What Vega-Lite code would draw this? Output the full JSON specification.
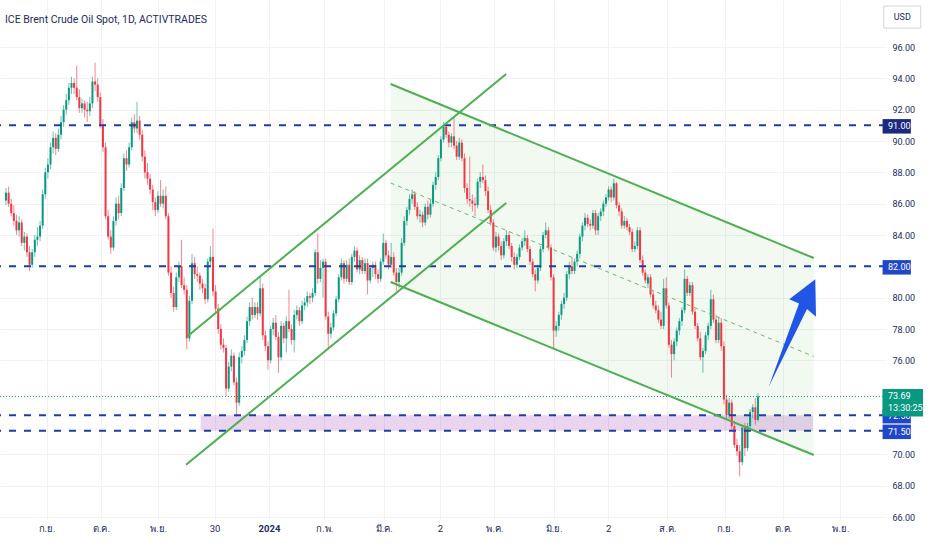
{
  "$schema": "https://vega.github.io/schema/vega-lite/v6.json",
  "width": 886,
  "height": 520,
  "autosize": {"type": "none"},
  "padding": {"left": 0, "top": 0, "right": 46, "bottom": 30},
  "background": "#ffffff",
  "title": {
    "text": "ICE Brent Crude Oil Spot, 1D, ACTIVTRADES",
    "anchor": "start",
    "frame": "group",
    "offset": -25,
    "dx": 5,
    "fontSize": 10.5,
    "fontWeight": "normal",
    "font": "Roboto",
    "color": "#212a62"
  },
  "datasets": {
    "candles": [
      {"i":0,"o":86.2,"h":87.0,"l":85.9,"c":86.7},{"i":1,"o":86.7,"h":87.1,"l":85.8,"c":86.0},{"i":2,"o":86.0,"h":86.3,"l":85.2,"c":85.4},{"i":3,"o":85.4,"h":85.9,"l":84.6,"c":84.9},{"i":4,"o":84.9,"h":85.3,"l":84.0,"c":84.3},
      {"i":5,"o":84.3,"h":85.2,"l":83.9,"c":84.8},{"i":6,"o":84.8,"h":85.0,"l":83.3,"c":83.5},{"i":7,"o":83.5,"h":84.2,"l":83.0,"c":83.9},{"i":8,"o":83.9,"h":84.1,"l":82.6,"c":82.9},{"i":9,"o":82.9,"h":83.3,"l":81.7,"c":82.1},
      {"i":10,"o":82.1,"h":83.1,"l":81.9,"c":82.9},{"i":11,"o":82.9,"h":84.0,"l":82.6,"c":83.7},{"i":12,"o":83.7,"h":84.5,"l":83.3,"c":83.9},{"i":13,"o":83.9,"h":84.9,"l":83.6,"c":84.6},{"i":14,"o":84.6,"h":86.9,"l":84.4,"c":86.6},
      {"i":15,"o":86.6,"h":88.3,"l":86.3,"c":88.0},{"i":16,"o":88.0,"h":88.9,"l":87.6,"c":88.5},{"i":17,"o":88.5,"h":89.9,"l":88.2,"c":89.6},{"i":18,"o":89.6,"h":90.6,"l":89.2,"c":90.2},{"i":19,"o":90.2,"h":90.5,"l":89.1,"c":89.5},
      {"i":20,"o":89.5,"h":90.8,"l":89.3,"c":90.4},{"i":21,"o":90.4,"h":91.6,"l":90.1,"c":91.2},{"i":22,"o":91.2,"h":92.3,"l":90.9,"c":92.0},{"i":23,"o":92.0,"h":93.0,"l":91.7,"c":92.6},{"i":24,"o":92.6,"h":93.7,"l":92.3,"c":93.4},
      {"i":25,"o":93.4,"h":94.1,"l":93.0,"c":93.7},{"i":26,"o":93.7,"h":94.0,"l":93.0,"c":93.4},{"i":27,"o":93.4,"h":94.8,"l":92.6,"c":92.8},{"i":28,"o":92.8,"h":93.3,"l":91.8,"c":92.1},{"i":29,"o":92.1,"h":92.7,"l":91.8,"c":92.4},
      {"i":30,"o":92.4,"h":92.6,"l":91.5,"c":92.0},{"i":31,"o":92.0,"h":92.5,"l":91.2,"c":91.9},{"i":32,"o":91.9,"h":92.8,"l":91.6,"c":92.4},{"i":33,"o":92.4,"h":94.1,"l":92.1,"c":93.8},{"i":34,"o":93.8,"h":95.0,"l":93.2,"c":93.6},
      {"i":35,"o":93.6,"h":94.0,"l":92.5,"c":92.8},{"i":36,"o":92.8,"h":93.1,"l":90.8,"c":91.0},{"i":37,"o":91.0,"h":91.4,"l":89.3,"c":89.6},{"i":38,"o":89.6,"h":89.9,"l":85.0,"c":85.2},{"i":39,"o":85.2,"h":85.6,"l":83.7,"c":83.9},
      {"i":40,"o":83.9,"h":84.3,"l":82.8,"c":83.2},{"i":41,"o":83.2,"h":85.2,"l":83.0,"c":84.9},{"i":42,"o":84.9,"h":86.4,"l":84.6,"c":86.0},{"i":43,"o":86.0,"h":86.5,"l":85.0,"c":85.4},{"i":44,"o":85.4,"h":87.3,"l":85.2,"c":87.0},
      {"i":45,"o":87.0,"h":89.2,"l":86.8,"c":88.9},{"i":46,"o":88.9,"h":89.4,"l":88.1,"c":88.5},{"i":47,"o":88.5,"h":89.9,"l":88.3,"c":89.6},{"i":48,"o":89.6,"h":91.5,"l":89.4,"c":91.2},{"i":49,"o":91.2,"h":91.7,"l":90.5,"c":90.8},
      {"i":50,"o":90.8,"h":92.5,"l":90.5,"c":91.3},{"i":51,"o":91.3,"h":91.6,"l":90.1,"c":90.4},{"i":52,"o":90.4,"h":90.7,"l":88.7,"c":89.0},{"i":53,"o":89.0,"h":89.4,"l":87.6,"c":88.0},{"i":54,"o":88.0,"h":88.6,"l":87.2,"c":87.6},
      {"i":55,"o":87.6,"h":87.9,"l":86.6,"c":86.9},{"i":56,"o":86.9,"h":87.2,"l":85.6,"c":86.1},{"i":57,"o":86.1,"h":86.4,"l":85.2,"c":85.6},{"i":58,"o":85.6,"h":86.8,"l":85.4,"c":86.5},{"i":59,"o":86.5,"h":87.5,"l":85.8,"c":86.0},
      {"i":60,"o":86.0,"h":86.9,"l":85.7,"c":86.5},{"i":61,"o":86.5,"h":87.1,"l":85.0,"c":85.2},{"i":62,"o":85.2,"h":85.4,"l":81.4,"c":81.6},{"i":63,"o":81.6,"h":82.0,"l":80.0,"c":80.3},{"i":64,"o":80.3,"h":80.7,"l":79.1,"c":79.4},
      {"i":65,"o":79.4,"h":81.6,"l":79.2,"c":81.3},{"i":66,"o":81.3,"h":82.3,"l":81.0,"c":82.0},{"i":67,"o":82.0,"h":83.7,"l":80.6,"c":80.8},{"i":68,"o":80.8,"h":81.3,"l":80.2,"c":80.5},{"i":69,"o":80.5,"h":80.8,"l":76.7,"c":77.4},
      {"i":70,"o":77.4,"h":80.1,"l":77.2,"c":79.8},{"i":71,"o":79.8,"h":82.8,"l":79.6,"c":82.2},{"i":72,"o":82.2,"h":82.6,"l":81.2,"c":81.5},{"i":73,"o":81.5,"h":82.0,"l":81.0,"c":81.4},{"i":74,"o":81.4,"h":81.6,"l":80.5,"c":80.9},
      {"i":75,"o":80.9,"h":81.2,"l":80.3,"c":80.6},{"i":76,"o":80.6,"h":80.9,"l":79.6,"c":79.9},{"i":77,"o":79.9,"h":82.5,"l":79.7,"c":82.3},{"i":78,"o":82.3,"h":83.3,"l":82.0,"c":82.6},{"i":79,"o":82.6,"h":84.4,"l":80.1,"c":80.4},
      {"i":80,"o":80.4,"h":80.8,"l":79.0,"c":79.3},{"i":81,"o":79.3,"h":79.6,"l":77.7,"c":78.0},{"i":82,"o":78.0,"h":78.3,"l":76.7,"c":77.0},{"i":83,"o":77.0,"h":77.4,"l":76.5,"c":76.8},{"i":84,"o":76.8,"h":77.0,"l":73.7,"c":74.2},
      {"i":85,"o":74.2,"h":75.9,"l":74.0,"c":75.6},{"i":86,"o":75.6,"h":76.7,"l":75.3,"c":76.3},{"i":87,"o":76.3,"h":76.5,"l":74.4,"c":74.6},{"i":88,"o":74.6,"h":74.9,"l":72.4,"c":73.3},{"i":89,"o":73.3,"h":76.5,"l":73.1,"c":76.2},
      {"i":90,"o":76.2,"h":76.9,"l":75.8,"c":76.6},{"i":91,"o":76.6,"h":77.6,"l":76.3,"c":77.3},{"i":92,"o":77.3,"h":78.8,"l":77.1,"c":78.5},{"i":93,"o":78.5,"h":79.7,"l":78.2,"c":79.4},{"i":94,"o":79.4,"h":80.0,"l":78.6,"c":78.9},
      {"i":95,"o":78.9,"h":79.7,"l":78.7,"c":79.4},{"i":96,"o":79.4,"h":79.7,"l":78.6,"c":79.0},{"i":97,"o":79.0,"h":81.3,"l":78.8,"c":80.6},{"i":98,"o":80.6,"h":80.9,"l":77.3,"c":77.6},{"i":99,"o":77.6,"h":77.9,"l":76.6,"c":76.9},
      {"i":100,"o":76.9,"h":77.2,"l":75.4,"c":76.0},{"i":101,"o":76.0,"h":78.2,"l":75.8,"c":78.0},{"i":102,"o":78.0,"h":78.7,"l":77.6,"c":78.4},{"i":103,"o":78.4,"h":78.9,"l":77.3,"c":77.5},{"i":104,"o":77.5,"h":77.8,"l":75.2,"c":76.2},
      {"i":105,"o":76.2,"h":78.5,"l":76.0,"c":78.2},{"i":106,"o":78.2,"h":78.4,"l":77.1,"c":77.4},{"i":107,"o":77.4,"h":78.8,"l":76.5,"c":78.5},{"i":108,"o":78.5,"h":80.5,"l":77.8,"c":78.0},{"i":109,"o":78.0,"h":78.3,"l":77.0,"c":77.3},
      {"i":110,"o":77.3,"h":79.2,"l":76.5,"c":78.9},{"i":111,"o":78.9,"h":79.5,"l":78.6,"c":79.2},{"i":112,"o":79.2,"h":79.4,"l":78.2,"c":78.5},{"i":113,"o":78.5,"h":79.8,"l":78.3,"c":79.5},{"i":114,"o":79.5,"h":80.0,"l":79.2,"c":79.7},
      {"i":115,"o":79.7,"h":80.4,"l":79.4,"c":80.1},{"i":116,"o":80.1,"h":80.3,"l":79.6,"c":80.0},{"i":117,"o":80.0,"h":80.6,"l":79.7,"c":80.3},{"i":118,"o":80.3,"h":83.1,"l":80.1,"c":82.9},{"i":119,"o":82.9,"h":84.1,"l":80.9,"c":81.2},
      {"i":120,"o":81.2,"h":82.4,"l":81.0,"c":81.9},{"i":121,"o":81.9,"h":82.5,"l":80.0,"c":82.3},{"i":122,"o":82.3,"h":82.5,"l":78.6,"c":78.8},{"i":123,"o":78.8,"h":79.1,"l":76.7,"c":77.7},{"i":124,"o":77.7,"h":78.4,"l":77.4,"c":78.1},
      {"i":125,"o":78.1,"h":79.2,"l":77.9,"c":79.0},{"i":126,"o":79.0,"h":80.1,"l":78.8,"c":79.9},{"i":127,"o":79.9,"h":81.5,"l":79.7,"c":81.3},{"i":128,"o":81.3,"h":82.5,"l":81.1,"c":82.2},{"i":129,"o":82.2,"h":82.4,"l":80.9,"c":81.2},
      {"i":130,"o":81.2,"h":82.4,"l":81.0,"c":82.1},{"i":131,"o":82.1,"h":82.5,"l":80.8,"c":81.0},{"i":132,"o":81.0,"h":82.8,"l":80.8,"c":82.6},{"i":133,"o":82.6,"h":83.3,"l":82.3,"c":83.0},{"i":134,"o":83.0,"h":83.2,"l":81.6,"c":81.8},
      {"i":135,"o":81.8,"h":82.7,"l":81.5,"c":82.4},{"i":136,"o":82.4,"h":82.6,"l":81.5,"c":81.7},{"i":137,"o":81.7,"h":82.5,"l":81.5,"c":82.2},{"i":138,"o":82.2,"h":82.5,"l":80.2,"c":81.1},{"i":139,"o":81.1,"h":82.1,"l":80.9,"c":81.9},
      {"i":140,"o":81.9,"h":82.3,"l":81.3,"c":82.1},{"i":141,"o":82.1,"h":82.3,"l":81.2,"c":81.5},{"i":142,"o":81.5,"h":81.8,"l":80.9,"c":81.2},{"i":143,"o":81.2,"h":82.5,"l":81.0,"c":82.3},{"i":144,"o":82.3,"h":84.1,"l":82.1,"c":83.5},
      {"i":145,"o":83.5,"h":83.7,"l":82.5,"c":82.7},{"i":146,"o":82.7,"h":83.0,"l":81.8,"c":82.1},{"i":147,"o":82.1,"h":83.5,"l":81.9,"c":82.6},{"i":148,"o":82.6,"h":82.9,"l":81.4,"c":81.6},{"i":149,"o":81.6,"h":81.9,"l":80.4,"c":81.0},
      {"i":150,"o":81.0,"h":81.9,"l":80.6,"c":81.6},{"i":151,"o":81.6,"h":83.8,"l":81.4,"c":83.5},{"i":152,"o":83.5,"h":85.2,"l":83.3,"c":84.9},{"i":153,"o":84.9,"h":85.8,"l":84.6,"c":85.6},{"i":154,"o":85.6,"h":86.6,"l":85.3,"c":86.3},
      {"i":155,"o":86.3,"h":86.9,"l":86.0,"c":86.6},{"i":156,"o":86.6,"h":86.8,"l":85.6,"c":85.8},{"i":157,"o":85.8,"h":86.1,"l":85.0,"c":85.2},{"i":158,"o":85.2,"h":85.6,"l":84.8,"c":85.3},{"i":159,"o":85.3,"h":85.5,"l":84.5,"c":84.8},
      {"i":160,"o":84.8,"h":86.0,"l":84.6,"c":85.8},{"i":161,"o":85.8,"h":86.2,"l":85.0,"c":85.3},{"i":162,"o":85.3,"h":86.3,"l":85.1,"c":86.0},{"i":163,"o":86.0,"h":87.4,"l":85.8,"c":87.2},{"i":164,"o":87.2,"h":88.0,"l":86.9,"c":87.7},
      {"i":165,"o":87.7,"h":89.1,"l":87.5,"c":88.9},{"i":166,"o":88.9,"h":90.3,"l":88.7,"c":90.1},{"i":167,"o":90.1,"h":91.2,"l":89.9,"c":90.9},{"i":168,"o":90.9,"h":91.1,"l":90.2,"c":90.4},{"i":169,"o":90.4,"h":90.6,"l":89.6,"c":89.9},
      {"i":170,"o":89.9,"h":90.5,"l":89.6,"c":90.3},{"i":171,"o":90.3,"h":91.5,"l":89.5,"c":89.7},{"i":172,"o":89.7,"h":90.0,"l":88.8,"c":89.0},{"i":173,"o":89.0,"h":90.2,"l":88.8,"c":89.9},{"i":174,"o":89.9,"h":90.1,"l":88.7,"c":88.9},
      {"i":175,"o":88.9,"h":89.2,"l":86.7,"c":87.0},{"i":176,"o":87.0,"h":87.3,"l":86.0,"c":86.3},{"i":177,"o":86.3,"h":89.0,"l":85.8,"c":86.2},{"i":178,"o":86.2,"h":86.6,"l":85.5,"c":86.0},{"i":179,"o":86.0,"h":86.4,"l":85.2,"c":85.9},
      {"i":180,"o":85.9,"h":87.6,"l":85.7,"c":87.4},{"i":181,"o":87.4,"h":88.0,"l":87.0,"c":87.7},{"i":182,"o":87.7,"h":88.5,"l":87.3,"c":87.5},{"i":183,"o":87.5,"h":87.8,"l":86.5,"c":86.8},{"i":184,"o":86.8,"h":87.1,"l":85.4,"c":85.6},
      {"i":185,"o":85.6,"h":85.9,"l":84.6,"c":84.8},{"i":186,"o":84.8,"h":85.0,"l":83.0,"c":83.2},{"i":187,"o":83.2,"h":84.2,"l":82.9,"c":83.9},{"i":188,"o":83.9,"h":84.1,"l":83.0,"c":83.3},{"i":189,"o":83.3,"h":83.6,"l":82.4,"c":82.7},
      {"i":190,"o":82.7,"h":83.8,"l":82.5,"c":83.6},{"i":191,"o":83.6,"h":84.3,"l":83.3,"c":84.0},{"i":192,"o":84.0,"h":84.2,"l":83.1,"c":83.3},{"i":193,"o":83.3,"h":83.5,"l":82.3,"c":82.6},{"i":194,"o":82.6,"h":82.9,"l":81.8,"c":82.1},
      {"i":195,"o":82.1,"h":82.8,"l":81.9,"c":82.6},{"i":196,"o":82.6,"h":83.4,"l":82.4,"c":83.2},{"i":197,"o":83.2,"h":83.8,"l":83.0,"c":83.6},{"i":198,"o":83.6,"h":84.3,"l":83.3,"c":83.8},{"i":199,"o":83.8,"h":84.0,"l":82.9,"c":83.1},
      {"i":200,"o":83.1,"h":83.3,"l":82.1,"c":82.3},{"i":201,"o":82.3,"h":82.5,"l":81.3,"c":81.5},{"i":202,"o":81.5,"h":81.8,"l":80.4,"c":81.1},{"i":203,"o":81.1,"h":82.1,"l":80.9,"c":81.9},{"i":204,"o":81.9,"h":83.3,"l":81.7,"c":83.1},
      {"i":205,"o":83.1,"h":84.2,"l":82.9,"c":84.0},{"i":206,"o":84.0,"h":84.8,"l":83.8,"c":84.3},{"i":207,"o":84.3,"h":84.5,"l":83.0,"c":83.2},{"i":208,"o":83.2,"h":83.4,"l":81.1,"c":81.3},{"i":209,"o":81.3,"h":81.5,"l":76.7,"c":77.9},
      {"i":210,"o":77.9,"h":78.5,"l":77.5,"c":78.2},{"i":211,"o":78.2,"h":79.1,"l":77.9,"c":78.9},{"i":212,"o":78.9,"h":79.8,"l":78.6,"c":79.6},{"i":213,"o":79.6,"h":80.3,"l":79.3,"c":80.0},{"i":214,"o":80.0,"h":81.7,"l":79.8,"c":81.5},
      {"i":215,"o":81.5,"h":82.3,"l":81.2,"c":82.0},{"i":216,"o":82.0,"h":82.6,"l":81.5,"c":81.7},{"i":217,"o":81.7,"h":82.5,"l":81.5,"c":82.3},{"i":218,"o":82.3,"h":83.0,"l":82.0,"c":82.8},{"i":219,"o":82.8,"h":84.1,"l":82.5,"c":83.9},
      {"i":220,"o":83.9,"h":84.8,"l":83.6,"c":84.6},{"i":221,"o":84.6,"h":85.4,"l":84.3,"c":85.1},{"i":222,"o":85.1,"h":85.3,"l":84.5,"c":84.7},{"i":223,"o":84.7,"h":85.0,"l":84.3,"c":84.6},{"i":224,"o":84.6,"h":85.6,"l":84.4,"c":85.4},
      {"i":225,"o":85.4,"h":85.6,"l":84.0,"c":84.3},{"i":226,"o":84.3,"h":85.4,"l":84.0,"c":85.2},{"i":227,"o":85.2,"h":85.7,"l":84.9,"c":85.5},{"i":228,"o":85.5,"h":86.2,"l":85.2,"c":86.0},{"i":229,"o":86.0,"h":86.6,"l":85.8,"c":86.4},
      {"i":230,"o":86.4,"h":87.1,"l":86.2,"c":86.9},{"i":231,"o":86.9,"h":87.1,"l":86.1,"c":86.4},{"i":232,"o":86.4,"h":87.6,"l":86.2,"c":87.3},{"i":233,"o":87.3,"h":87.4,"l":85.7,"c":85.9},{"i":234,"o":85.9,"h":86.1,"l":85.2,"c":85.5},
      {"i":235,"o":85.5,"h":85.7,"l":84.4,"c":84.6},{"i":236,"o":84.6,"h":85.2,"l":84.4,"c":84.9},{"i":237,"o":84.9,"h":85.1,"l":84.3,"c":84.5},{"i":238,"o":84.5,"h":84.7,"l":84.0,"c":84.2},{"i":239,"o":84.2,"h":84.4,"l":82.9,"c":83.1},
      {"i":240,"o":83.1,"h":83.6,"l":82.9,"c":83.3},{"i":241,"o":83.3,"h":84.5,"l":83.1,"c":84.3},{"i":242,"o":84.3,"h":84.5,"l":82.2,"c":82.4},{"i":243,"o":82.4,"h":82.7,"l":81.4,"c":81.6},{"i":244,"o":81.6,"h":81.8,"l":80.9,"c":81.1},
      {"i":245,"o":80.9,"h":81.5,"l":80.6,"c":81.3},{"i":246,"o":81.3,"h":81.5,"l":80.0,"c":80.2},{"i":247,"o":80.2,"h":80.5,"l":79.3,"c":79.5},{"i":248,"o":79.5,"h":79.8,"l":79.0,"c":79.2},{"i":249,"o":79.2,"h":79.5,"l":78.4,"c":78.6},
      {"i":250,"o":78.6,"h":79.1,"l":78.0,"c":78.2},{"i":251,"o":78.2,"h":81.2,"l":78.0,"c":80.6},{"i":252,"o":80.6,"h":81.3,"l":79.3,"c":79.5},{"i":253,"o":79.5,"h":79.7,"l":76.8,"c":77.0},{"i":254,"o":77.0,"h":77.3,"l":74.9,"c":76.4},
      {"i":255,"o":76.4,"h":77.4,"l":76.0,"c":77.2},{"i":256,"o":77.2,"h":78.1,"l":76.9,"c":77.9},{"i":257,"o":77.9,"h":78.7,"l":77.6,"c":78.5},{"i":258,"o":78.5,"h":79.4,"l":78.2,"c":79.2},{"i":259,"o":79.2,"h":81.8,"l":79.0,"c":81.2},
      {"i":260,"o":81.2,"h":81.4,"l":80.1,"c":80.3},{"i":261,"o":80.3,"h":81.0,"l":80.1,"c":80.8},{"i":262,"o":80.8,"h":81.0,"l":78.9,"c":79.1},{"i":263,"o":79.1,"h":79.3,"l":78.0,"c":78.2},{"i":264,"o":78.2,"h":78.4,"l":77.2,"c":77.4},
      {"i":265,"o":77.4,"h":77.8,"l":76.0,"c":76.2},{"i":266,"o":76.2,"h":76.8,"l":75.2,"c":76.6},{"i":267,"o":76.6,"h":77.8,"l":76.4,"c":77.6},{"i":268,"o":77.6,"h":78.4,"l":77.3,"c":78.2},{"i":269,"o":78.2,"h":80.5,"l":78.0,"c":79.9},
      {"i":270,"o":79.9,"h":80.2,"l":78.4,"c":78.6},{"i":271,"o":78.6,"h":78.9,"l":77.1,"c":77.3},{"i":272,"o":77.3,"h":78.7,"l":77.1,"c":78.4},{"i":273,"o":78.4,"h":78.7,"l":76.6,"c":76.9},{"i":274,"o":76.9,"h":77.2,"l":73.2,"c":73.5},
      {"i":275,"o":73.5,"h":73.8,"l":72.2,"c":72.5},{"i":276,"o":72.5,"h":73.6,"l":72.3,"c":73.3},{"i":277,"o":73.3,"h":73.5,"l":71.5,"c":71.8},{"i":278,"o":71.8,"h":72.1,"l":70.4,"c":70.6},{"i":279,"o":70.6,"h":71.0,"l":69.9,"c":70.2},
      {"i":280,"o":70.2,"h":70.6,"l":68.6,"c":69.5},{"i":281,"o":69.5,"h":71.9,"l":69.3,"c":71.7},{"i":282,"o":71.7,"h":72.0,"l":69.9,"c":70.4},{"i":283,"o":70.4,"h":72.0,"l":70.2,"c":71.8},{"i":284,"o":71.8,"h":72.9,"l":71.6,"c":72.7},
      {"i":285,"o":72.7,"h":73.2,"l":72.3,"c":73.0},{"i":286,"o":73.0,"h":73.6,"l":71.9,"c":72.2},{"i":287,"o":72.2,"h":73.9,"l":72.1,"c":73.69}
    ],
    "levels": [
      {"p": 91, "t": "91.00"},
      {"p": 82, "t": "82.00"},
      {"p": 72.5, "t": "72.50"},
      {"p": 71.5, "t": "71.50"}
    ],
    "channels": [
      {"ln": "up1", "i": 69.4, "p": 77.56},
      {"ln": "up1", "i": 190.9, "p": 94.28},
      {"ln": "up2", "i": 68.7, "p": 69.33},
      {"ln": "up2", "i": 190.9, "p": 86.04},
      {"ln": "dn1", "i": 146.8, "p": 93.64},
      {"ln": "dn1", "i": 308.3, "p": 82.53},
      {"ln": "dn2", "i": 146.8, "p": 81.0},
      {"ln": "dn2", "i": 308.3, "p": 69.96}
    ]
  },
  "layer": [
    {
      "data": {"values": [{"i": 146.8, "p": 93.64, "p2": 81.0}, {"i": 308.3, "p": 82.53, "p2": 69.96}]},
      "mark": {"type": "area", "color": "#4caf50", "opacity": 0.08},
      "encoding": {
        "x": {
          "field": "i", "type": "quantitative", "title": null,
          "scale": {"domain": [-0.377, 333.96], "nice": false, "zero": false},
          "axis": {
            "title": null,
            "values": [15.47, 36.23, 58.11, 79.62, 100.38, 121.51, 144.15, 165.66, 186.42, 209.06, 229.81, 252.45, 274.34, 296.6, 318.5],
            "labelExpr": "['ก.ย.','ต.ค.','พ.ย.','30','2024','ก.พ.','มี.ค.','2','พ.ค.','มิ.ย.','2','ส.ค.','ก.ย.','ต.ค.','พ.ย.'][indexof([15.47, 36.23, 58.11, 79.62, 100.38, 121.51, 144.15, 165.66, 186.42, 209.06, 229.81, 252.45, 274.34, 296.6, 318.5], datum.value)]",
            "labelFontWeight": {"condition": {"test": "datum.value == 100.38", "value": "bold"}, "value": "normal"},
            "grid": true, "gridColor": "#f0f2f6", "gridWidth": 1,
            "domain": false, "ticks": false,
            "labelPadding": 3, "labelFontSize": 9.5, "labelColor": "#212a62",
            "labelFont": "Roboto",
            "labelOverlap": false, "labelFlush": false, "labelBound": false
          }
        },
        "y": {
          "field": "p", "type": "quantitative", "title": null,
          "scale": {"domain": [65.809, 99.0], "nice": false, "zero": false},
          "axis": {
            "title": null, "orient": "right",
            "values": [66, 68, 70, 76, 78, 80, 84, 86, 88, 90, 92, 94, 96],
            "format": ".2f",
            "grid": true, "gridColor": "#f0f2f6", "gridWidth": 1,
            "domain": false, "ticks": false,
            "labelPadding": 6, "labelFontSize": 9, "labelColor": "#212a62",
            "labelFont": "Roboto",
            "labelOverlap": false, "labelBound": false
          }
        },
        "y2": {"field": "p2"}
      }
    },
    {
      "data": {"values": [{"i": 146.8, "p": 72.5}]},
      "mark": {"type": "rule", "opacity": 0},
      "encoding": {
        "y": {"field": "p", "type": "quantitative", "title": null,
          "axis": {"values": [66, 68, 70, 76, 78, 80, 84, 86, 88, 90, 92, 94, 96], "labelOverlap": false, "title": null, "orient": "right"}}
      }
    },
    {
      "data": {"values": [{"i": 74.3, "i2": 308.0, "p": 72.5, "p2": 71.5}]},
      "mark": {"type": "rect", "color": "#9c27b0", "opacity": 0.2},
      "encoding": {
        "x": {"field": "i", "type": "quantitative", "title": null},
        "x2": {"field": "i2"},
        "y": {"field": "p", "type": "quantitative", "title": null},
        "y2": {"field": "p2"}
      }
    },
    {
      "data": {"name": "candles"},
      "mark": {"type": "rule", "strokeWidth": 1, "opacity": 0.6},
      "encoding": {
        "x": {"field": "i", "type": "quantitative", "title": null},
        "y": {"field": "l", "type": "quantitative", "title": null},
        "y2": {"field": "h"},
        "color": {"condition": {"test": "datum.c >= datum.o", "value": "#089981"}, "value": "#f23645"}
      }
    },
    {
      "data": {"name": "candles"},
      "mark": {"type": "bar", "size": 2},
      "encoding": {
        "x": {"field": "i", "type": "quantitative", "title": null},
        "y": {"field": "o", "type": "quantitative", "title": null},
        "y2": {"field": "c"},
        "color": {"condition": {"test": "datum.c >= datum.o", "value": "#089981"}, "value": "#f23645"}
      }
    },
    {
      "data": {"name": "levels"},
      "mark": {"type": "rule", "color": "#1e3da6", "strokeWidth": 2, "strokeDash": [7, 8]},
      "encoding": {
        "y": {"field": "p", "type": "quantitative", "title": null}
      }
    },
    {
      "data": {"values": [{"p": 73.69}]},
      "mark": {"type": "rule", "color": "#089981", "strokeWidth": 1, "strokeDash": [1, 2]},
      "encoding": {
        "y": {"field": "p", "type": "quantitative", "title": null}
      }
    },
    {
      "data": {"name": "channels"},
      "mark": {"type": "line", "color": "#4caf50", "strokeWidth": 2},
      "encoding": {
        "x": {"field": "i", "type": "quantitative", "title": null},
        "y": {"field": "p", "type": "quantitative", "title": null},
        "detail": {"field": "ln"}
      }
    },
    {
      "data": {"values": [{"i": 146.8, "p": 87.32}, {"i": 308.3, "p": 76.25}]},
      "mark": {"type": "line", "color": "#66bb6a", "strokeWidth": 1, "strokeDash": [4, 4]},
      "encoding": {
        "x": {"field": "i", "type": "quantitative", "title": null},
        "y": {"field": "p", "type": "quantitative", "title": null}
      }
    },
    {
      "data": {"values": [{"i": 300.13, "p": 77.745}]},
      "mark": {
        "type": "point", "filled": true, "opacity": 1, "color": "#2155e5", "size": 11535,
        "shape": "M0.427,-1L0.44,-0.304L0.273,-0.447L-0.44,1L0.124,-0.549L-0.057,-0.628Z"
      },
      "encoding": {
        "x": {"field": "i", "type": "quantitative", "title": null},
        "y": {"field": "p", "type": "quantitative", "title": null}
      }
    },
    {
      "data": {"name": "levels"},
      "mark": {
        "type": "point", "filled": true, "opacity": 1, "size": 801,
        "shape": "M-1,-0.512L1,-0.512L1,0.512L-1,0.512Z"
      },
      "encoding": {
        "x": {"datum": 339.96, "type": "quantitative"},
        "y": {"field": "p", "type": "quantitative", "title": null},
        "yOffset": {"condition": {"test": "datum.p < 80", "value": 8.5}, "value": 1},
        "color": {"condition": {"test": "datum.p == 91", "value": "#1b2a80"}, "value": "#1f47c8"}
      }
    },
    {
      "data": {"name": "levels"},
      "mark": {
        "type": "text", "align": "left", "baseline": "middle", "color": "#ffffff",
        "fontSize": 9, "font": "Roboto"
      },
      "encoding": {
        "x": {"datum": 336.6, "type": "quantitative"},
        "y": {"field": "p", "type": "quantitative", "title": null},
        "yOffset": {"condition": {"test": "datum.p < 80", "value": 8.5}, "value": 1},
        "text": {"field": "t"}
      }
    },
    {
      "data": {"values": [{"p": 73.69, "price": "73.69", "timer": "13:30:25"}]},
      "layer": [
        {
          "mark": {
            "type": "point", "filled": true, "opacity": 1, "color": "#089981", "size": 1648,
            "shape": "M-1,-0.675L1,-0.675L1,0.675L-1,0.675Z"
          },
          "encoding": {
            "x": {"datum": 342.26, "type": "quantitative"},
            "y": {"field": "p", "type": "quantitative", "title": null},
            "yOffset": {"value": 6.2}
          }
        },
        {
          "mark": {
            "type": "text", "align": "left", "baseline": "middle", "color": "#ffffff",
            "fontSize": 9, "font": "Roboto"
          },
          "encoding": {
            "x": {"datum": 336.6, "type": "quantitative"},
            "y": {"field": "p", "type": "quantitative", "title": null},
            "yOffset": {"value": -0.5},
            "text": {"field": "price"}
          }
        },
        {
          "mark": {
            "type": "text", "align": "left", "baseline": "middle", "color": "#ffffff",
            "fontSize": 9, "font": "Roboto"
          },
          "encoding": {
            "x": {"datum": 336.6, "type": "quantitative"},
            "y": {"field": "p", "type": "quantitative", "title": null},
            "yOffset": {"value": 11.5},
            "text": {"field": "timer"}
          }
        }
      ]
    },
    {
      "data": {"values": [{"t": "USD"}]},
      "layer": [
        {
          "mark": {
            "type": "point", "filled": true, "opacity": 1, "color": "#ffffff",
            "stroke": "#d1d4dc", "strokeWidth": 1, "size": 1369,
            "shape": "M-1,-0.595L1,-0.595L1,0.595L-1,0.595Z"
          },
          "encoding": {
            "x": {"datum": 342.08, "type": "quantitative"},
            "y": {"datum": 97.91, "type": "quantitative"}
          }
        },
        {
          "mark": {
            "type": "text", "align": "center", "baseline": "middle", "color": "#212a62",
            "fontSize": 9, "font": "Roboto"
          },
          "encoding": {
            "x": {"datum": 342.08, "type": "quantitative"},
            "y": {"datum": 97.91, "type": "quantitative"},
            "text": {"field": "t"}
          }
        }
      ]
    }
  ],
  "config": {
    "view": {"stroke": null},
    "font": "Roboto",
    "axis": {"labelOverlap": false},
    "axisY": {"labelOverlap": false}
  }
}
